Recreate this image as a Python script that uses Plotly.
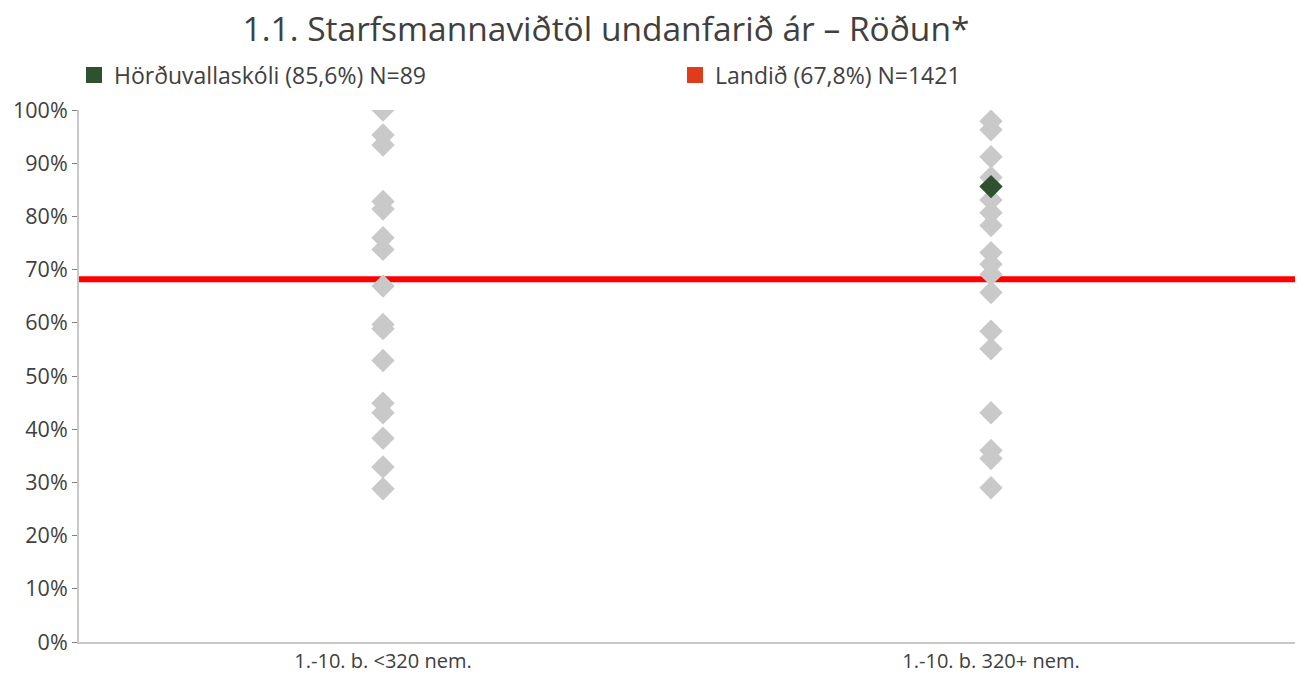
import plotly.graph_objects as go

categories = ["1.-10. b. <320 nem.", "1.-10. b. 320+ nem."]
small_schools = [100.0, 95.3, 93.4, 82.8, 81.4, 76.0, 73.8, 66.9, 59.7, 58.9,
                 52.9, 44.9, 43.1, 38.3, 32.9, 28.8]
large_schools = [97.9, 96.3, 91.2, 87.3, 83.1, 80.7, 78.3, 73.2, 71.0, 69.1,
                 65.7, 58.4, 55.1, 43.1, 36.0, 34.5, 29.0]
school_name = "Hörðuvallaskóli (85,6%) N=89"
school_category = "1.-10. b. 320+ nem."
school_value = 85.6
national_name = "Landið (67,8%) N=1421"
national_line = 68.2
y_ticks = list(range(0, 101, 10))

FONT = "Open Sans"
TXT = "#404040"
GRAY = "#C9C9C9"
GREEN = "#2E5230"
LEG_RED = "#E03C1C"
LINE_RED = "#FF0000"

W, H = 1304, 675

fig = go.Figure()

fig.add_trace(go.Scatter(
    x=[categories[0]] * len(small_schools), y=small_schools,
    mode="markers", showlegend=False, hoverinfo="y",
    marker=dict(symbol="diamond", size=18, color=GRAY, line=dict(width=0)),
))
fig.add_trace(go.Scatter(
    x=[categories[1]] * len(large_schools), y=large_schools,
    mode="markers", showlegend=False, hoverinfo="y",
    marker=dict(symbol="diamond", size=18, color=GRAY, line=dict(width=0)),
))
fig.add_trace(go.Scatter(
    x=[school_category], y=[school_value],
    mode="markers", name=school_name, showlegend=False,
    marker=dict(symbol="diamond", size=18, color=GREEN, line=dict(width=0)),
))

# legend entries
fig.add_trace(go.Scatter(
    x=[None], y=[None], mode="markers", name=school_name,
    marker=dict(symbol="square", size=18, color=GREEN),
))
fig.add_trace(go.Scatter(
    x=[None], y=[None], mode="markers", name=national_name,
    marker=dict(symbol="square", size=18, color=LEG_RED),
))

fig.add_shape(type="line", xref="paper", x0=0, x1=1, yref="y",
              y0=national_line, y1=national_line,
              line=dict(color=LINE_RED, width=6), layer="below")

fig.update_layout(
    width=W, height=H,
    paper_bgcolor="white", plot_bgcolor="white",
    margin=dict(l=79, r=9, t=110, b=33, autoexpand=False),
    font=dict(family=FONT, size=21, color=TXT),
    title=dict(
        text="1.1. Starfsmannaviðtöl undanfarið ár – Röðun*",
        x=606 / W, xanchor="center", xref="container",
        y=1 - 29 / H, yanchor="middle", yref="container",
        font=dict(family=FONT, size=33.5, color=TXT),
    ),
    legend=dict(
        orientation="h", xref="container", yref="container",
        x=74 / W, xanchor="left", y=1 - 75 / H, yanchor="middle",
        entrywidth=556, entrywidthmode="pixels",
        font=dict(family=FONT, size=23, color=TXT),
        bgcolor="rgba(0,0,0,0)", itemclick=False,
    ),
    xaxis=dict(
        type="category", categoryorder="array", categoryarray=categories,
        range=[-0.5, 1.5], showline=True, linecolor="#C8C8C8", linewidth=2,
        showgrid=False, zeroline=False, ticks="", automargin=False,
        tickfont=dict(family=FONT, size=20, color=TXT),
    ),
    yaxis=dict(
        range=[0, 100], tickvals=y_ticks,
        ticktext=[f"{v}%" for v in y_ticks],
        showline=True, linecolor="#C8C8C8", linewidth=2, automargin=False,
        ticks="outside", ticklen=5, tickcolor="#7F7F7F", tickwidth=1,
        showgrid=False, zeroline=False,
        tickfont=dict(family=FONT, size=21.5, color=TXT),
    ),
)

# Remove the browser's default 8px body margin so the figure fills the window.
fig.write_html(
    "out.html",
    config={"displayModeBar": False},
    post_script="document.body.style.margin='0';document.body.style.overflow='hidden';",
)
